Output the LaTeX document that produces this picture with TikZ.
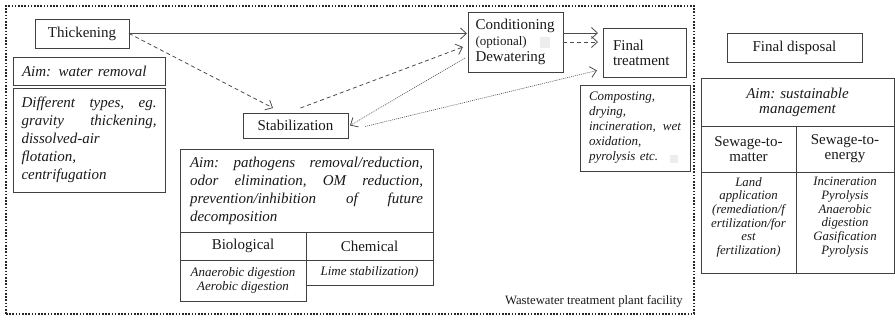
\documentclass[tikz,border=0pt]{standalone}
\usepackage{fontspec}
\setmainfont{Liberation Serif}
\usetikzlibrary{arrows.meta,calc}
\begin{document}
\begin{tikzpicture}[x=1pt,y=-1pt,
  box/.style={draw=black!75,line width=0.8pt,inner sep=0pt,outer sep=0pt,anchor=north west,text=black!90},
  rmA/.style={font=\fontsize{15}{15}\selectfont},
  itA/.style={font=\fontsize{15}{18}\selectfont\itshape},
  itB/.style={font=\fontsize{13}{15}\selectfont\itshape},
  itR/.style={font=\fontsize{12.8}{13.7}\selectfont\itshape,text=black!90,inner sep=0pt,align=center,anchor=north},
  arr/.style={line width=0.8pt,draw=black!70,-{Straight Barb[length=6pt,width=11pt,line width=0.8pt]}},
  dsh/.style={arr,dash pattern=on 4pt off 3pt},
  dtt/.style={arr,line width=0.6pt,dash pattern=on 1pt off 1pt},
  speck/.style={fill=black!7,inner sep=0pt,anchor=north west}
]
\useasboundingbox (0,0) rectangle (895,320);

% plant frame
\node[draw=black!85,line width=1.8pt,dash pattern=on 1.6pt off 1.6pt,minimum width=688,minimum height=308,anchor=north west,inner sep=0pt] (plant) at (5,5) {};
\node[font=\fontsize{12.7}{14}\selectfont,anchor=base east,inner sep=0pt,text=black!90] (plantlbl) at (683,305) {Wastewater treatment plant facility};

% thickening
\node[box,rmA,minimum width=94,minimum height=29] (thick) at (35,19) {Thickening};
\node[box,itA,minimum width=152,minimum height=28,text width=134,align=left] (aimw) at (13,57) {Aim: water removal};
\node[box,itA,minimum width=152,minimum height=104,text width=135,align=left] (diff) at (13,88)
  {Different\hfill types,\hfill eg.\\gravity\hfill thickening,\\dissolved-air\\flotation,\\centrifugation};

% stabilization
\node[box,rmA,minimum width=105,minimum height=25] (stab) at (243,113) {Stabilization};
\node[box,itA,minimum width=253,minimum height=83,text width=233,align=left] (aims) at (180,149)
  {Aim:\hfill pathogens\hfill removal/reduction,\\odor\hfill elimination,\hfill OM\hfill reduction,\\prevention/inhibition\hfill of\hfill future\\decomposition};
\node[box,rmA,minimum width=126,minimum height=28] (bio) at (180,232) {Biological};
\node[box,rmA,minimum width=127,minimum height=28] (chem) at (306,232) {Chemical};
\node[box,font=\fontsize{13}{14.5}\selectfont\itshape,minimum width=126,minimum height=41,align=center] (biol) at (180,260) {Anaerobic digestion\\Aerobic digestion};
\node[box,itB,minimum width=127,minimum height=25] (cheml) at (306,260) {Lime stabilization)};

% conditioning
\node[box,font=\fontsize{15}{16}\selectfont,minimum width=95,minimum height=60,text width=80,align=left] (cond) at (468,12)
  {Conditioning\\{\fontsize{13}{15}\selectfont (optional)}\\Dewatering};
\node[speck,minimum width=10,minimum height=11] (speck1) at (540,37) {};

% final treatment
\node[box,font=\fontsize{15}{15}\selectfont,minimum width=83,minimum height=49,text width=63,align=left] (ft) at (603,28) {Final\\treatment};
\node[box,itB,minimum width=110,minimum height=86,text width=92,align=left] (comp) at (580,85)
  {Composting,\\drying,\\incineration,\hfill wet\\oxidation,\\pyrolysis etc.};
\node[speck,minimum width=8,minimum height=8] (speck2) at (670,155) {};

% final disposal
\node[box,rmA,minimum width=135,minimum height=29] (fd) at (727,33) {Final disposal};
\node[box,font=\fontsize{15}{15}\selectfont\itshape,minimum width=193,minimum height=48,align=center] (aimr) at (701,78) {Aim: sustainable\\management};
\node[box,rmA,minimum width=95,minimum height=46,align=center] (sewm) at (701,126) {Sewage-to-\\matter};
\node[box,rmA,minimum width=98,minimum height=46,align=center] (sewe) at (796,126) {Sewage-to-\\energy};
\node[box,minimum width=95,minimum height=101] (matl) at (701,172) {};
\node[box,minimum width=98,minimum height=101] (enl) at (796,172) {};
\node[itR] (matt) at ($(matl.north)+(0,5)$) {Land\\application\\(remediation/f\\ertilization/for\\est\\fertilization)};
\node[itR] (ent) at ($(enl.north)+(0,5)$) {Incineration\\Pyrolysis\\Anaerobic\\digestion\\Gasification\\Pyrolysis};

% connectors
\coordinate (c1) at ($(cond.east)+(0,-9)$);
\draw[arr,shorten >=1pt] (thick.east) -- (thick.east -| cond.west);
\draw[dsh] (thick.east) -- ($(stab.north west)+(30,-5)$);
\draw[dsh] ($(stab.north)+(5,-5)$) -- ($(cond.west)+(-5,5)$);
\draw[dtt] ($(cond.west)+(-3,16)$) -- ($(stab.east)+(2,0)$);
\draw[dtt] ($(stab.east)+(17,1)$) -- ($(ft.west)+(-6,18)$);
\draw[arr,shorten >=5pt] (c1) -- (c1 -| ft.west);
\draw[dsh,shorten >=5pt] (cond.east) -- (cond.east -| ft.west);
\end{tikzpicture}
\end{document}
